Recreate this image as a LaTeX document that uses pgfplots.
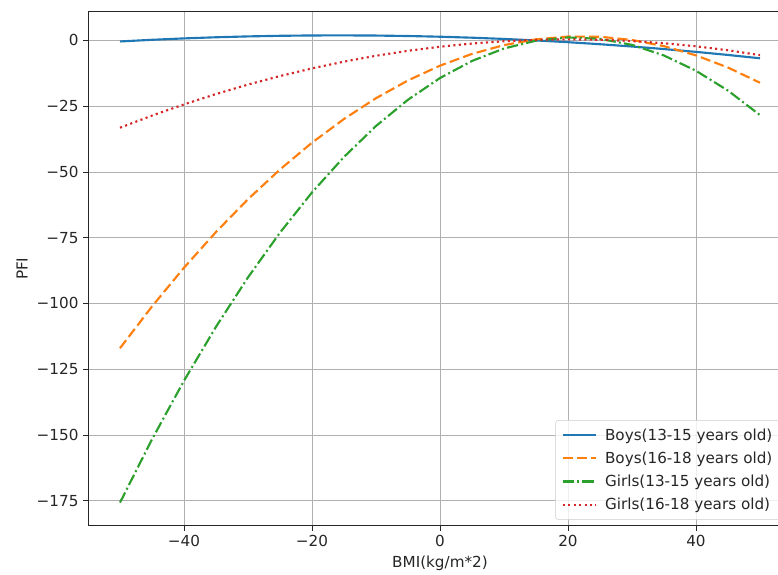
\documentclass[border=0pt]{standalone}
\usepackage{fontspec}
\setmainfont{DejaVu Sans}
\usepackage{pgfplots}
\pgfplotsset{compat=1.18}
\definecolor{tabblue}{HTML}{1F77B4}
\definecolor{taborange}{HTML}{FF7F0E}
\definecolor{tabgreen}{HTML}{2CA02C}
\definecolor{tabred}{HTML}{D62728}
\definecolor{gridgray}{HTML}{B0B0B0}
\newcommand{\fs}{\fontsize{11.4}{13.6}\selectfont}
\begin{document}
\begin{tikzpicture}
\begin{axis}[
  scale only axis, width=528pt, height=385.5pt,
  xmin=-55, xmax=55, ymin=-184.5, ymax=10.9,
  xtick={-40,-20,0,20,40}, xticklabels={−40,−20,0,20,40},
  ytick={-175,-150,-125,-100,-75,-50,-25,0},
  yticklabels={−175,−150,−125,−100,−75,−50,−25,0},
  tick pos=left, tick align=outside, major tick length=3.6pt,
  grid=major, grid style={color=gridgray, line width=0.6pt},
  axis line style={line width=0.6pt, color=black!85},
  tick style={line width=0.6pt, color=black!85},
  tick label style={font=\fs, color=black!85},
  label style={font=\fs, color=black!85},
  xlabel={BMI(kg/m*2)}, ylabel={PFI},
  legend style={at={(rel axis cs:1,0)}, anchor=south east, xshift=-8pt, yshift=4.5pt,
    draw=black!20, rounded corners=2pt, fill=white, fill opacity=0.8, text opacity=1,
    font=\fs, row sep=3.2pt, inner xsep=4.5pt, inner ysep=4pt, text=black!85},
  legend cell align=left,
  legend image code/.code={\draw[#1] (0pt,0pt) -- (24.75pt,0pt); \path (29pt,0pt);},
]
\addplot[tabblue, line width=1.6pt] coordinates {
(-50,-0.40) (-45,0.23) (-40,0.76) (-35,1.19) (-30,1.52) (-25,1.75) (-20,1.88) (-15,1.91) (-10,1.84) (-5,1.67)
(0,1.40) (5,1.03) (10,0.56) (15,-0.01) (20,-0.68) (25,-1.45) (30,-2.32) (35,-3.29) (40,-4.36) (45,-5.53) (50,-6.80)};
\addlegendentry{Boys(13-15 years old)}
\addplot[taborange, line width=1.6pt, dash pattern=on 7.5pt off 3.2pt] coordinates {
(-50,-117.0) (-45,-101.14) (-40,-86.41) (-35,-72.83) (-30,-60.37) (-25,-49.07) (-20,-38.89) (-15,-29.87) (-10,-21.97) (-5,-15.22)
(0,-9.60) (5,-5.12) (10,-1.79) (15,0.41) (20,1.47) (25,1.39) (30,0.17) (35,-2.19) (40,-5.69) (45,-10.32) (50,-16.10)};
\addlegendentry{Boys(16-18 years old)}
\addplot[tabgreen, line width=1.6pt, dash pattern=on 8.5pt off 2.4pt on 1.5pt off 2.4pt] coordinates {
(-50,-175.7) (-45,-151.67) (-40,-129.38) (-35,-108.86) (-30,-90.08) (-25,-73.07) (-20,-57.80) (-15,-44.30) (-10,-32.54) (-5,-22.55)
(0,-14.30) (5,-7.81) (10,-3.08) (15,-0.10) (20,1.12) (25,0.59) (30,-1.70) (35,-5.74) (40,-11.54) (45,-19.09) (50,-28.40)};
\addlegendentry{Girls(13-15 years old)}
\addplot[tabred, line width=1.6pt, dash pattern=on 1.6pt off 2.5pt] coordinates {
(-50,-33.2) (-45,-28.59) (-40,-24.32) (-35,-20.39) (-30,-16.80) (-25,-13.55) (-20,-10.64) (-15,-8.07) (-10,-5.84) (-5,-3.95)
(0,-2.40) (5,-1.19) (10,-0.32) (15,0.21) (20,0.40) (25,0.25) (30,-0.24) (35,-1.07) (40,-2.24) (45,-3.75) (50,-5.60)};
\addlegendentry{Girls(16-18 years old)}
\end{axis}
\pgfresetboundingbox
\path[use as bounding box] ([xshift=-66pt,yshift=-36.75pt]current axis.south west) rectangle ([xshift=-10.5pt,yshift=8.8pt]current axis.north east);
\end{tikzpicture}
\end{document}
